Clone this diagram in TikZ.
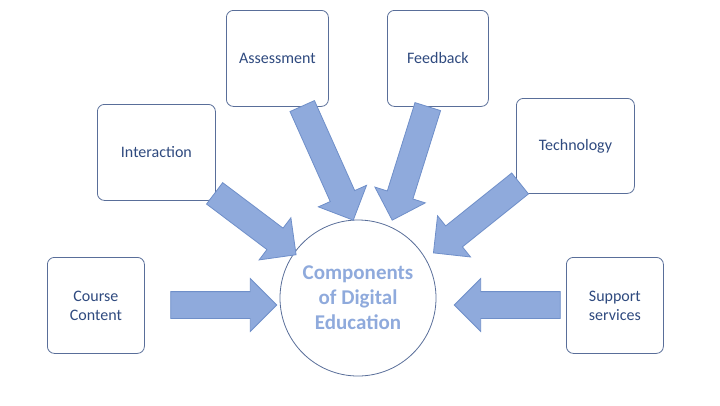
\documentclass[tikz,border=0pt]{standalone}
\usepackage{fontspec}
\setmainfont{Carlito}
\usetikzlibrary{shapes.arrows}
\definecolor{arrfill}{HTML}{8FAADC}
\definecolor{arrdraw}{HTML}{6F8FC9}
\definecolor{txt}{HTML}{2F4A7F}
\definecolor{ctxt}{HTML}{8FAADC}
\begin{document}
\begin{tikzpicture}[x=1pt,y=-1pt,
  box/.style={draw=txt!80,line width=0.8pt,rounded corners=7pt,fill=white,text=txt,align=center,font=\fontsize{16}{19}\selectfont,anchor=north west},
  barr/.style={single arrow,draw=arrdraw,fill=arrfill,line width=0.8pt,inner sep=13pt,single arrow head extend=13pt,anchor=center}]
\useasboundingbox (0,0) rectangle (720,405);
\node[draw=txt!80,line width=0.8pt,circle,minimum size=156pt,align=center,text=ctxt,font=\bfseries\fontsize{21}{25}\selectfont] (c) at (358,298) {Components\\of Digital\\Education};
\node[box,minimum width=97pt,minimum height=96pt] (cc) at (47,257) {Course\\Content};
\node[box,minimum width=118pt,minimum height=96pt] (in) at (97,104) {Interaction};
\node[box,minimum width=102pt,minimum height=96pt] (as) at (226,10) {Assessment};
\node[box,minimum width=101pt,minimum height=96pt] (fb) at (387,10) {Feedback};
\node[box,minimum width=118pt,minimum height=95pt] (te) at (516,98) {Technology};
\node[box,minimum width=97pt,minimum height=96pt] (ss) at (566,257) {Support\\services};
\node[barr,minimum height=106pt] (a1) at (217,305) {};
\node[barr,minimum height=106pt,rotate=180] (a2) at (514,305) {};
\node[barr,minimum height=102pt,rotate=-37] (a3) at (250,220) {};
\node[barr,minimum height=125pt,rotate=-65.9] (a4) at (325,157) {};
\node[barr,minimum height=119pt,rotate=-107.4] (a5) at (412,157) {};
\node[barr,minimum height=111pt,rotate=-141.3] (a6) at (482,214) {};
\end{tikzpicture}
\end{document}
